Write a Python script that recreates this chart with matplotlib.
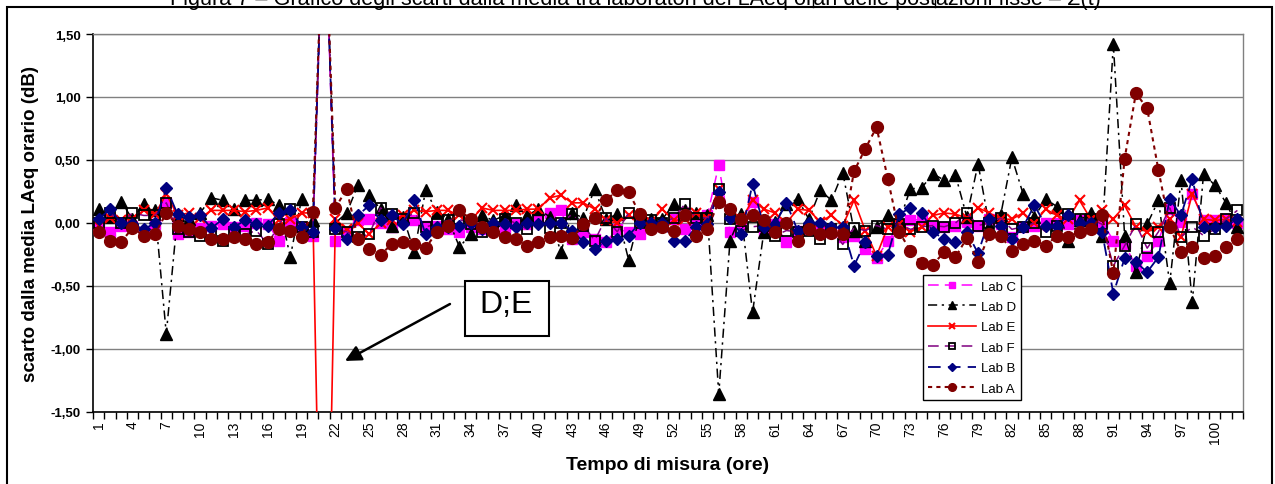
import matplotlib
matplotlib.use("Agg")
import matplotlib.pyplot as plt
from matplotlib.patches import Rectangle
from matplotlib.lines import Line2D
import numpy as np

plt.rcParams['font.family'] = ['Liberation Sans', 'DejaVu Sans']

hours = list(range(1, 103))
tick_hours = list(range(1, 101, 3))

lab_c = [-0.05, -0.07, -0.02, -0.02, -0.07, -0.01, 0.16, -0.09, -0.07, -0.04,
         -0.02, -0.01, -0.03, -0.02, 0.00, -0.01, -0.14, 0.01, -0.03, -0.10,
         2.70, -0.14, -0.07, 0.02, 0.03, 0.00, -0.03, 0.02, 0.02, -0.02,
         -0.02, -0.05, -0.07, -0.03, -0.05, -0.05, -0.05, -0.01, -0.01, 0.05,
         0.08, 0.10, -0.13, -0.07, -0.13, -0.15, -0.05, -0.07, -0.09, -0.02,
         -0.02, 0.03, -0.05, -0.01, 0.06, 0.46, -0.07, -0.01, 0.17, -0.07,
         -0.01, -0.15, -0.06, -0.05, -0.07, -0.07, -0.11, -0.10, -0.21, -0.28,
         -0.14, -0.03, 0.02, 0.03, -0.03, -0.03, -0.02, 0.01, -0.02, 0.03,
         -0.01, -0.11, -0.03, -0.02, 0.00, 0.00, -0.01, 0.02, 0.01, 0.01,
         -0.14, -0.17, -0.34, -0.26, -0.14, 0.11, 0.01, 0.23, 0.02, 0.02,
         0.03, 0.00]

lab_d = [0.11, 0.05, 0.17, 0.03, 0.15, 0.10, -0.88, 0.06, 0.03, 0.08,
         0.20, 0.18, 0.11, 0.18, 0.18, 0.19, 0.14, -0.27, 0.19, 0.02,
         2.70, 0.00, 0.08, 0.30, 0.22, 0.11, -0.02, 0.05, -0.23, 0.26,
         0.09, 0.03, -0.19, -0.09, 0.06, 0.02, 0.06, 0.14, 0.06, 0.11,
         0.05, -0.23, 0.08, 0.04, 0.27, 0.03, 0.07, -0.29, 0.06, 0.03,
         0.03, 0.15, 0.10, 0.08, 0.06, -1.36, -0.14, 0.07, -0.71, -0.07,
         0.01, 0.15, 0.19, 0.03, 0.26, 0.18, 0.40, -0.06, -0.14, -0.03,
         0.06, 0.01, 0.27, 0.28, 0.39, 0.34, 0.38, 0.05, 0.47, -0.02,
         0.06, 0.52, 0.23, 0.05, 0.19, 0.13, -0.14, 0.02, 0.08, -0.10,
         1.42, -0.10, -0.39, -0.01, 0.18, -0.48, 0.34, -0.63, 0.39, 0.30,
         0.16, -0.03]

lab_e = [-0.02, 0.04, 0.02, 0.03, 0.10, 0.07, 0.23, 0.06, 0.08, 0.04,
         0.10, 0.10, 0.10, 0.09, 0.10, 0.12, 0.02, 0.03, 0.08, 0.08,
         -4.50, 0.03, -0.05, 0.00, -0.09, 0.00, 0.02, 0.06, 0.10, 0.09,
         0.10, 0.10, 0.06, 0.02, 0.12, 0.10, 0.10, 0.10, 0.11, 0.11,
         0.20, 0.22, 0.16, 0.16, 0.11, 0.02, 0.00, 0.06, 0.01, 0.01,
         0.11, 0.02, 0.03, 0.08, 0.04, 0.27, 0.06, 0.03, 0.18, 0.11,
         0.08, 0.00, 0.11, 0.10, 0.01, 0.06, -0.02, 0.18, -0.06, -0.26,
         -0.03, -0.01, -0.07, -0.03, 0.06, 0.08, 0.07, 0.04, 0.12, 0.08,
         0.03, 0.03, 0.08, 0.00, 0.11, 0.06, 0.03, 0.18, 0.03, 0.10,
         0.03, 0.14, -0.03, -0.07, -0.03, 0.03, -0.11, 0.23, 0.03, 0.02,
         0.03, 0.01]

lab_f = [0.00, 0.08, 0.00, 0.08, 0.06, 0.06, 0.16, -0.05, -0.07, -0.10,
         -0.09, -0.14, -0.07, -0.09, -0.06, -0.17, -0.01, 0.11, -0.03, -0.07,
         2.70, -0.05, -0.07, -0.11, -0.09, 0.12, 0.07, 0.03, 0.08, -0.03,
         -0.01, 0.02, 0.03, -0.01, -0.07, -0.03, 0.03, 0.00, -0.05, 0.02,
         -0.04, 0.00, 0.07, -0.02, -0.14, 0.04, -0.07, 0.08, 0.00, 0.02,
         0.00, 0.04, 0.15, 0.04, 0.04, 0.27, 0.03, -0.06, -0.03, -0.02,
         -0.10, -0.06, -0.07, -0.06, -0.13, -0.05, -0.17, -0.04, -0.06, -0.02,
         -0.05, -0.01, -0.05, -0.03, -0.02, -0.03, 0.00, 0.08, -0.02, 0.00,
         0.04, -0.05, -0.03, 0.00, -0.07, -0.02, 0.07, 0.03, 0.03, -0.01,
         -0.34, -0.18, -0.01, -0.20, -0.07, 0.12, -0.11, -0.03, -0.10, -0.05,
         0.03, 0.10]

lab_b = [0.03, 0.11, 0.00, -0.01, -0.05, 0.00, 0.28, 0.07, 0.05, 0.06,
         -0.04, 0.03, -0.03, 0.02, -0.01, -0.02, 0.08, 0.10, -0.03, -0.07,
         2.70, -0.04, -0.13, 0.06, 0.14, 0.02, 0.06, -0.01, 0.18, -0.09,
         -0.03, -0.03, -0.02, 0.00, -0.05, 0.00, -0.01, -0.03, 0.00, -0.01,
         0.00, 0.00, -0.06, -0.15, -0.21, -0.14, -0.13, -0.10, 0.00, 0.00,
         0.00, -0.14, -0.14, -0.03, -0.01, 0.25, 0.04, -0.09, 0.31, -0.03,
         -0.01, 0.16, -0.06, 0.00, 0.00, -0.03, -0.03, -0.34, -0.15, -0.26,
         -0.25, 0.07, 0.12, 0.08, -0.07, -0.13, -0.15, -0.07, -0.24, 0.03,
         -0.02, -0.13, -0.03, 0.14, -0.02, -0.02, 0.06, 0.00, 0.00, -0.07,
         -0.56, -0.28, -0.31, -0.39, -0.27, 0.19, 0.06, 0.35, -0.03, -0.03,
         -0.02, 0.03]

lab_a = [-0.07, -0.14, -0.15, -0.04, -0.10, -0.09, 0.08, -0.02, -0.05, -0.07,
         -0.13, -0.13, -0.11, -0.13, -0.17, -0.15, -0.05, -0.06, -0.11, 0.09,
         2.70, 0.12, 0.27, -0.13, -0.21, -0.25, -0.17, -0.15, -0.17, -0.20,
         -0.07, -0.02, 0.10, 0.03, -0.03, -0.07, -0.11, -0.13, -0.18, -0.15,
         -0.11, -0.10, -0.12, -0.01, 0.04, 0.18, 0.26, 0.25, 0.07, -0.05,
         -0.03, -0.06, 0.06, -0.10, -0.05, 0.17, 0.11, 0.03, 0.06, 0.02,
         -0.07, 0.00, -0.14, -0.05, -0.09, -0.08, -0.09, 0.41, 0.59, 0.76,
         0.35, -0.07, -0.22, -0.32, -0.33, -0.23, -0.27, -0.12, -0.31, -0.09,
         -0.10, -0.22, -0.17, -0.14, -0.18, -0.10, -0.11, -0.07, -0.05, 0.06,
         -0.40, 0.51, 1.03, 0.91, 0.42, -0.03, -0.23, -0.19, -0.28, -0.26,
         -0.19, -0.13]

W, H = 1275, 485
fig = plt.figure(figsize=(W / 100, H / 100), dpi=100)

# outer frame and (partly cropped) title, as in the source page
fig.patches.append(Rectangle((7 / W, -0.05), (1272 - 7) / W, 1.05 - 8 / H,
                             transform=fig.transFigure, fill=False,
                             edgecolor='black', linewidth=1.5))
for xp in (813, 935):
    fig.lines.append(Line2D([xp / W, xp / W], [1 - 8 / H, 1.0],
                            transform=fig.transFigure, color='black', lw=1))
fig.text(635 / W, 1 - 5 / H,
         "Figura 7 – Grafico degli scarti dalla media tra laboratori dei LAeq orari delle postazioni fisse – Σ(t)",
         ha='center', va='baseline', fontsize=15.6)

ax = fig.add_axes([93 / W, 1 - 413 / H, 1150 / W, 378 / H])

styles = [
    ("Lab C", lab_c, dict(color='#FF00FF', ls=(0, (7, 4)), lw=1.1, marker='s',
                          ms=7.5, mfc='#FF00FF', mec='#FF00FF')),
    ("Lab D", lab_d, dict(color='black', ls=(0, (6, 3, 1.5, 3)), lw=1.1, marker='^',
                          ms=8, mfc='black', mec='black')),
    ("Lab E", lab_e, dict(color='#FF0000', ls='-', lw=1.2, marker='x',
                          ms=7.5, mew=1.5, mec='#FF0000')),
    ("Lab F", lab_f, dict(color='#800080', ls=(0, (7, 4)), lw=1.1, marker='s',
                          ms=7.5, mfc='none', mec='black', mew=1.3)),
    ("Lab B", lab_b, dict(color='#000080', ls=(0, (7, 4)), lw=1.3, marker='D',
                          ms=6, mfc='#000080', mec='#000080')),
    ("Lab A", lab_a, dict(color='#800000', ls=(0, (2, 2)), lw=1.5, marker='o',
                          ms=8.5, mfc='#800000', mec='#800000')),
]
for z, (name, vals, st) in enumerate(styles):
    ax.plot(hours, vals, label=name, zorder=3 + z, clip_on=True, **st)

ax.set_xlim(0.5, 102.5)
ax.set_ylim(-1.5, 1.5)
yt = np.arange(-1.5, 1.51, 0.5)
ax.set_yticks(yt)
ax.set_yticklabels([f"{v:.2f}".replace('.', ',') for v in yt], fontweight='bold', fontsize=9.5)
ax.yaxis.grid(True, color='#808080', lw=1)
ax.set_axisbelow(True)
ax.tick_params(axis='y', direction='out', length=5, width=1, pad=4)

ax.set_xticks(tick_hours)
ax.set_xticklabels([str(h) for h in tick_hours], rotation=90, fontsize=10)
ax.set_xticks(np.arange(0.5, 103, 1), minor=True)
ax.tick_params(axis='x', which='major', length=0, pad=6)
ax.tick_params(axis='x', which='minor', direction='out', length=5, width=1)

for s in ('left', 'bottom'):
    ax.spines[s].set_color('black')
    ax.spines[s].set_linewidth(1.2)
for s in ('top', 'right'):
    ax.spines[s].set_color('#808080')
    ax.spines[s].set_linewidth(1)

ax.set_ylabel("scarto dalla media LAeq orario (dB)", fontweight='bold', fontsize=13.5, labelpad=8)
ax.set_xlabel("Tempo di misura (ore)", fontweight='bold', fontsize=14, labelpad=9)

leg = ax.legend(loc='upper left', bbox_to_anchor=(0.7217, 0.3624), fontsize=9.5,
                frameon=True, fancybox=False, edgecolor='black', framealpha=1,
                borderpad=0.4, labelspacing=0.62, handlelength=3.6,
                handletextpad=0.4, borderaxespad=0, markerscale=0.65)
leg.get_frame().set_linewidth(1)
leg.set_zorder(20)

# annotation
ax.annotate('', xy=(22.85, -1.095), xytext=(32.16, -0.643), xycoords='data',
            arrowprops=dict(arrowstyle='-|>', mutation_scale=24, lw=1.8,
                            color='black', shrinkA=0, shrinkB=0), zorder=15)
ax.add_patch(Rectangle((0.3235, 0.2011), 0.073, 0.1455, transform=ax.transAxes,
                       facecolor='white', edgecolor='black', lw=1.5, zorder=16))
ax.text(0.3591, 0.2646, "D;E", transform=ax.transAxes, ha='center', va='baseline',
        fontsize=23, zorder=17)

fig.savefig("out.png", dpi=100)
